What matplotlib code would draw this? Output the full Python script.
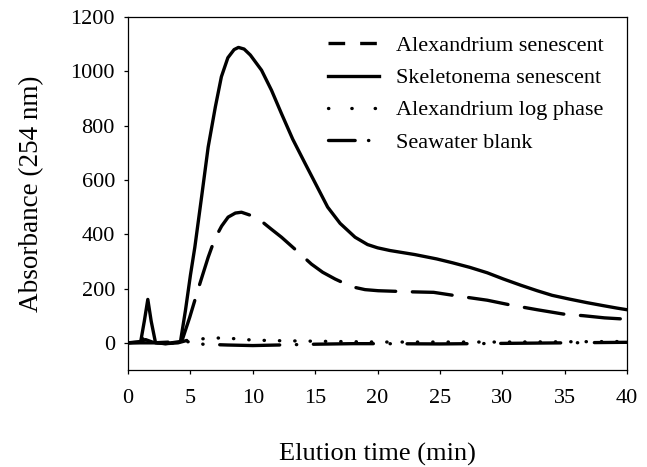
import matplotlib
matplotlib.use("Agg")
import matplotlib.pyplot as plt
from matplotlib.lines import Line2D

plt.rcParams['font.family'] = ['Liberation Serif', 'DejaVu Serif']

# Data
x_alex_sen = [0, 2, 4.3, 4.94, 5.7, 6.42, 6.95, 7.5, 8.02, 8.6, 9.09, 9.8, 10.8, 11.5, 12.3,
              13.5, 14.7, 15.6, 16.6, 17.4, 18.2, 19.0, 20.05, 22.6, 24.5, 26.5, 28.8,
              30.6, 32.8, 34.9, 36.5, 38.2, 40]
y_alex_sen = [0, 0, 5, 94, 210, 315, 383, 430, 463, 478, 481, 470, 444, 418, 389,
              340, 290, 260, 235, 218, 204, 196, 192, 188, 186, 172, 157,
              140, 122, 106, 100, 92, 87]

x_skel = [0, 1.0, 1.3, 1.58, 1.85, 2.2, 3.0, 4.2, 4.6, 5.0, 5.35, 5.9, 6.42, 7.0, 7.48,
          8.0, 8.5, 8.85, 9.3, 9.8, 10.7, 11.5, 12.3, 13.2, 14.2, 15.1, 16.0, 17.0,
          18.2, 19.2, 20.0, 21.0, 23.0, 24.75, 26.0, 27.4, 28.8, 30.1, 31.5, 32.8,
          34.0, 35.4, 36.8, 38.1, 39.2, 40]
y_skel = [0, 2, 80, 160, 80, 0, -3, 5, 120, 250, 352, 540, 721, 870, 980,
          1050, 1080, 1088, 1082, 1060, 1004, 930, 844, 750, 660, 580, 500, 440,
          389, 362, 350, 340, 325, 309, 295, 278, 258, 235, 212, 192,
          175, 161, 148, 137, 128, 122]

x_alex_log = [0, 0.8, 1.2, 1.6, 2.5, 4, 5, 6, 7, 8, 9, 10, 12, 15, 20, 25, 30, 35, 40]
y_alex_log = [0, 5, 15, 5, 0, 0, 5, 15, 18, 17, 14, 10, 8, 6, 3, 3, 3, 4, 5]

x_blank = [0, 1, 1.4, 2, 3, 4, 4.8, 5.5, 6, 8, 10, 12, 15, 18, 20, 25, 30, 35, 40]
y_blank = [0, 5, 12, 2, -3, 0, 10, 5, -5, -8, -10, -8, -5, -3, -3, -4, -2, 0, 2]

labels = ["Alexandrium senescent", "Skeletonema senescent",
          "Alexandrium log phase", "Seawater blank"]

x_ticks = [0, 5, 10, 15, 20, 25, 30, 35, 40]
y_ticks = [0, 200, 400, 600, 800, 1000, 1200]

fig = plt.figure(figsize=(6.47, 4.67), dpi=100)
ax = fig.add_axes([0.198, 0.2077, 0.771, 0.7559])

lw = 2.4
ax.plot(x_alex_sen, y_alex_sen, color='black', lw=lw, linestyle=(0, (12, 5)),
        dash_capstyle='round', dash_joinstyle='round')
ax.plot(x_skel, y_skel, color='black', lw=lw, linestyle='-', solid_joinstyle='round')
ax.plot(x_alex_log, y_alex_log, color='black', lw=lw, linestyle=(0, (0.1, 4.5)),
        dash_capstyle='round')
ax.plot(x_blank, y_blank, color='black', lw=lw, linestyle=(0, (18, 5, 0.1, 5)),
        dash_capstyle='round')

handles = [
    Line2D([], [], color='black', lw=lw, linestyle=(0, (5, 4.5)), dash_capstyle='butt'),
    Line2D([], [], color='black', lw=lw, linestyle='-'),
    Line2D([], [], color='black', lw=lw, linestyle=(0, (0.1, 6.9)), dash_capstyle='round'),
    Line2D([], [], color='black', lw=lw, linestyle=(0, (8, 4, 0.1, 4)), dash_capstyle='round'),
]

ax.set_xlim(0, 40)
ax.set_ylim(-100, 1200)
ax.set_xticks(x_ticks)
ax.set_yticks(y_ticks)
ax.tick_params(direction='out', length=3, width=0.9, labelsize=16, top=False, right=False)
ax.tick_params(axis='x', pad=11)
ax.tick_params(axis='y', pad=6.5)
for s in ax.spines.values():
    s.set_linewidth(0.9)

ax.set_xlabel("Elution time (min)", fontsize=19, labelpad=25)
ax.set_ylabel("Absorbance (254 nm)", fontsize=19.5, labelpad=19)

leg = ax.legend(handles, labels, loc='upper left', bbox_to_anchor=(0.401, 0.947),
                frameon=False, fontsize=16, handlelength=2.3, labelspacing=0.52,
                handletextpad=0.75, borderpad=0, borderaxespad=0)

fig.savefig("out.png", dpi=100)
